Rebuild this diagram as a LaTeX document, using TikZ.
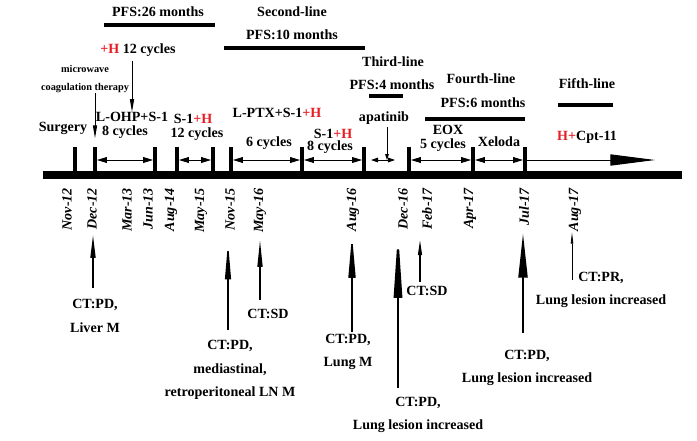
\documentclass[tikz,border=0pt]{standalone}
\usepackage{fontspec}
\setmainfont{Liberation Serif}
\usetikzlibrary{arrows.meta,positioning}
\definecolor{hred}{RGB}{230,30,36}

\tikzset{
  txt/.style={font=\fontsize{12}{14}\selectfont\bfseries, inner sep=0pt},
  smalltxt/.style={font=\fontsize{8.8}{15.3}\selectfont\bfseries, inner sep=0pt, align=center},
  ctlabel/.style={font=\fontsize{12}{19.8}\selectfont\bfseries, inner sep=0pt, align=center},
  datelabel/.style={font=\fontsize{12}{14}\selectfont\bfseries\itshape, rotate=90, anchor=east, inner sep=0pt},
  tickbar/.style={line width=3.4pt},
  pfsbar/.style={line width=3.4pt},
  span/.style={{Triangle[length=8.5pt,width=5pt]}-{Triangle[length=8.5pt,width=5pt]}, line width=0.8pt, shorten <=1.7pt, shorten >=1.7pt},
  ctarrow/.style n args={3}{-{Triangle[length=#1,width=#2]}, line width=#3},
}

\begin{document}
\begin{tikzpicture}[x=0.03cm,y=-0.03cm]
  \useasboundingbox (0,0) rectangle (697,440);

  % lines of therapy and PFS
  \node[txt] (pfs1) at (158,12) {PFS:26 months};
  \node[txt] (line2) at (292,12) {Second-line};
  \node[txt] (pfs2) at (292,35) {PFS:10 months};
  \node[txt] (line3) at (393,62) {Third-line};
  \node[txt] (pfs3) at (392,85) {PFS:4 months};
  \node[txt] (line4) at (481,79) {Fourth-line};
  \node[txt] (pfs4) at (483,103) {PFS:6 months};
  \node[txt] (line5) at (587,84) {Fifth-line};
  \draw[pfsbar] (104,25) -- (215,25);
  \draw[pfsbar] (224,48) -- (365,48);
  \draw[pfsbar] (369,96) -- (403,96);
  \draw[pfsbar] (425,119) -- (525,119);
  \draw[pfsbar] (558,105) -- (613,105);

  % time axis
  \draw[line width=6.8pt] (43,175) -- (682,175);
  \foreach \x/\n in {75/t1,95/t2,155/t3,177/t4,213/t5,231/t6,302/t7,364/t8,409/t9,473/t10,525/t11}
    \draw[tickbar] (\x,175) -- (\x,147) coordinate (\n);
  \coordinate (sp) at (0,160);

  % treatments
  \node[smalltxt] (mw) at (85,79) {microwave\\coagulation therapy};
  \node[txt] (surg) at (63,128) {Surgery};
  \node[txt] (hcyc) at (138,50) {\textcolor{hred}{+H} 12 cycles};
  \node[txt] (lohp) at (132,117) {L-OHP+S-1};
  \node[txt] (lohpc) at (125,132) {8 cycles};
  \node[txt] (soneh) at (193,119) {S-1\textcolor{hred}{+H}};
  \node[txt] (sonehc) at (197,134) {12 cycles};
  \node[txt] (lptx) at (277,113) {L-PTX+S-1\textcolor{hred}{+H}};
  \node[txt] (lptxc) at (269,143) {6 cycles};
  \node[txt] (sonehb) at (333,134) {S-1\textcolor{hred}{+H}};
  \node[txt] (sonehbc) at (330,147) {8 cycles};
  \node[txt] (apat) at (384,118) {apatinib};
  \node[txt] (eox) at (448,130) {EOX};
  \node[txt] (eoxc) at (443,145) {5 cycles};
  \node[txt] (xel) at (499,142) {Xeloda};
  \node[txt] (cpt) at (587,137) {\textcolor{hred}{H+}Cpt-11};

  \draw[-{Triangle[length=11pt,width=3.5pt]}, line width=0.8pt, shorten >=7.5pt] (mw.south -| t2) -- (t2);
  \draw[-{Triangle[length=11pt,width=3.5pt]}, line width=0.8pt, shorten <=4pt] (hcyc.south -| lohp.north) -- (lohp.north);

  \draw[span] (t2 |- sp) -- (t3 |- sp);
  \draw[span] (t4 |- sp) -- (t5 |- sp);
  \draw[span] (t6 |- sp) -- (t7 |- sp);
  \draw[span] (t7 |- sp) -- (t8 |- sp);
  \coordinate (apl) at (371,160);
  \coordinate (apr) at (395,160);
  \coordinate (ap) at (387,160);
  \draw[{Triangle[length=6pt,width=4pt]}-{Triangle[length=6pt,width=4pt]}, line width=0.8pt] (apl) -- (apr);
  \draw[-{Triangle[length=5pt,width=3pt]}, line width=0.8pt, shorten <=2pt] (apat.south -| ap) -- (ap);
  \draw[span] (t9 |- sp) -- (t10 |- sp);
  \draw[span] (t10 |- sp) -- (t11 |- sp);
  \coordinate (cptend) at (655,160);
  \draw[-{Triangle[length=38pt,width=9.5pt]}, line width=0.8pt, shorten <=1.7pt] (t11 |- sp) -- (cptend);

  % dates
  \foreach \x/\d/\n in {67/Nov-12/d1,92/Dec-12/d2,127/Mar-13/d3,148/Jun-13/d4,171/Aug-14/d5,201/May-15/d6,230/Nov-15/d7,260/May-16/d8,353/Aug-16/d9,403/Dec-16/d10,427/Feb-17/d11,470/Apr-17/d12,524/Jul-17/d13,575/Aug-17/d14}
    \node[datelabel] (\n) at (\x,188) {\d};

  % CT findings
  \node[ctlabel] (ct1) at (95,316) {CT:PD,\\Liver M};
  \node[ctlabel] (ct2) at (230,370) {CT:PD,\\mediastinal,\\retroperitoneal LN M};
  \node[ctlabel] (ct3) at (268,314) {CT:SD};
  \node[ctlabel] (ct4) at (348,352) {CT:PD,\\Lung M};
  \node[ctlabel] (ct5) at (418,415) {CT:PD,\\Lung lesion increased};
  \node[ctlabel] (ct6) at (427,291) {CT:SD};
  \node[ctlabel] (ct7) at (527,368) {CT:PD,\\Lung lesion increased};
  \node[ctlabel] (ct8) at (601,290) {CT:PR,\\Lung lesion increased};

  \foreach \x/\f/\t/\n in {93/288/235/1,228/330/242/2,260/300/240/3,352/332/235/4,398/388/230/5,420/282/240/6,523/333/233/7,572/280/232/8}
  {
    \coordinate (foot\n) at (\x,\f);
    \coordinate (tip\n) at (\x,\t);
  }
  \draw[ctarrow={19.5pt}{4.3pt}{1.2pt}] (foot1) -- (tip1);
  \draw[ctarrow={32pt}{5pt}{1.2pt}] (foot2) -- (tip2);
  \draw[ctarrow={23pt}{4.3pt}{1.2pt}] (foot3) -- (tip3);
  \draw[ctarrow={36.5pt}{6pt}{1.3pt}] (foot4) -- (tip4);
  \draw[ctarrow={58pt}{7pt}{2pt}] (foot5) -- (tip5);
  \draw[ctarrow={13pt}{3.4pt}{1pt}] (foot6) -- (tip6);
  \draw[ctarrow={38pt}{7.6pt}{2pt}] (foot7) -- (tip7);
  \draw[ctarrow={10pt}{2.1pt}{0.7pt}] (foot8) -- (tip8);
\end{tikzpicture}
\end{document}
